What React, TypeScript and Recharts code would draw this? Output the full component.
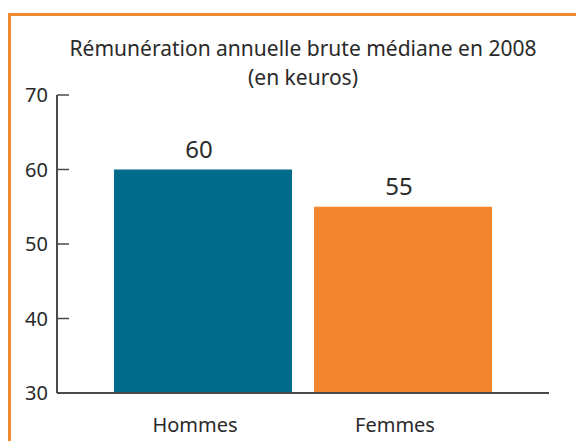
import { BarChart, Bar, XAxis, YAxis, Cell, LabelList } from 'recharts'

const categories = ['Hommes', 'Femmes']
const medianSalary = [60, 55]
const barColors = ['#006b8a', '#f3852e']
const yTicks = [30, 40, 50, 60, 70]

const chartData = categories.map((name, i) => ({ name, value: medianSalary[i] }))

const FONT = '"Noto Sans", "Open Sans", sans-serif'
const AXIS = '#4a4a4a'
const TEXT = '#2a2a2a'

export default function App() {
  return (
    <div style={{ position: 'absolute', left: 0, top: 0, width: 576, height: 441, background: '#fff', overflow: 'hidden' }}>
      {/* cadre orange, coupé à droite et en bas */}
      <div
        style={{
          position: 'absolute',
          left: 8,
          top: 13,
          width: 600,
          height: 500,
          borderTop: '3px solid #f08a30',
          borderLeft: '3px solid #f08a30',
        }}
      />
      <div
        style={{
          position: 'absolute',
          left: 0,
          top: 34,
          width: 606,
          textAlign: 'center',
          fontFamily: FONT,
          fontSize: 21,
          lineHeight: '29px',
          color: TEXT,
        }}
      >
        Rémunération annuelle brute médiane en 2008
        <br />
        (en keuros)
      </div>
      <BarChart
        width={576}
        height={441}
        data={chartData}
        margin={{ top: 95, right: 27, bottom: 0, left: 0 }}
        style={{ position: 'absolute', left: 0, top: 0 }}
      >
        <XAxis
          xAxisId="end"
          type="number"
          domain={[0, 1]}
          ticks={[1]}
          height={0}
          axisLine={false}
          tick={false}
          tickSize={-6}
          tickLine={{ stroke: AXIS, strokeWidth: 2 }}
        />
        <XAxis
          xAxisId="cat"
          dataKey="name"
          height={48}
          padding={{ left: 46, right: 46 }}
          axisLine={{ stroke: AXIS, strokeWidth: 2 }}
          tickLine={false}
          tickMargin={19}
          tick={{ fill: TEXT, fontSize: 20, fontFamily: FONT, dx: -8 }}
        />
        <YAxis
          width={57}
          domain={[30, 70]}
          ticks={yTicks}
          interval={0}
          axisLine={{ stroke: AXIS, strokeWidth: 2 }}
          tickSize={-12}
          tickMargin={21}
          tickLine={{ stroke: AXIS, strokeWidth: 1.5 }}
          tick={{ fill: TEXT, fontSize: 20, fontFamily: FONT }}
        />
        <Bar xAxisId="cat" dataKey="value" barSize={178} isAnimationActive={false}>
          {chartData.map((d, i) => (
            <Cell key={d.name} fill={barColors[i]} />
          ))}
          <LabelList
            dataKey="value"
            position="top"
            offset={12}
            fill={TEXT}
            fontSize={24}
            fontFamily={FONT}
            dx={-4}
          />
        </Bar>
      </BarChart>
    </div>
  )
}
